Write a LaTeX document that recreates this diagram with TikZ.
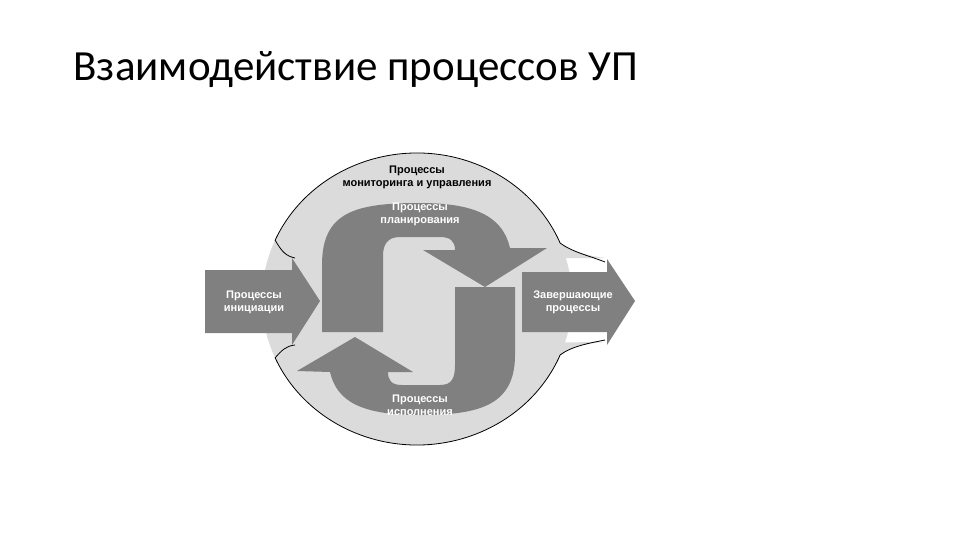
\documentclass[tikz,border=0pt]{standalone}
\usepackage{fontspec}
\setmainfont{Liberation Sans}
\newfontfamily\titlefont{Carlito}
\begin{document}
\begin{tikzpicture}[x=1pt,y=-1pt,
  shp/.style={fill=black!50,draw=none},
  wlab/.style={text=white,font=\bfseries\fontsize{11}{13}\selectfont,align=center},
  blab/.style={text=black,font=\bfseries\fontsize{11}{13}\selectfont,align=center}]
\useasboundingbox (0,0) rectangle (960,540);
\node[anchor=west,font=\titlefont\fontsize{43}{48}\selectfont] (title) at (70,70) {Взаимодействие процессов УП};
% background blob
\fill[black!14] (275,240) .. controls (282,252) and (286,256) .. (295,258) -- (605,258) .. controls (590,256) and (572,252) .. (560,243) -- (560,355) .. controls (572,346) and (590,343) .. (605,342) -- (295,345) .. controls (286,346) and (282,350) .. (275,358) -- cycle;
\fill[black!14] (417,299) ellipse [x radius=155,y radius=146];
\draw[thick] (417,299) ++(203.8:155 and 146) arc[start angle=203.8,end angle=337.4,x radius=155,y radius=146];
\draw[thick] (417,299) ++(22.6:155 and 146) arc[start angle=22.6,end angle=156.2,x radius=155,y radius=146];
\draw[thick] (275,240) .. controls (282,252) and (286,256) .. (295,258);
\draw[thick] (275,358) .. controls (282,350) and (286,346) .. (295,345);
\draw[thick] (560,243) .. controls (572,252) and (590,256) .. (605,262);
\draw[thick] (560,355) .. controls (572,346) and (590,343) .. (605,340);
% arrows
\fill[shp] (205,270) -- (292,270) -- (292,258) -- (320,301) -- (292,345) -- (292,333) -- (205,333) -- cycle;
\fill[shp] (522,272) -- (607,272) -- (607,259) -- (635,301) -- (607,345) -- (607,332) -- (522,332) -- cycle;
\fill[shp] (322,332) -- (322,265) .. controls (322,212) and (355,203) .. (420,203) .. controls (478,203) and (503,218) .. (510,248) -- (547,248) -- (485,287) -- (423,250) -- (455,250) .. controls (455,241) and (450,237) .. (440,237) -- (400,237) .. controls (387,237) and (383,245) .. (383,256) -- (383,332) -- cycle;
\fill[shp] (515,287) -- (515,355) .. controls (515,405) and (480,415) .. (420,415) .. controls (362,415) and (337,402) .. (330,372) -- (297,371) -- (355,337) -- (413,372) -- (388,372) .. controls (388,381) and (392,385) .. (402,385) -- (440,385) .. controls (452,385) and (455,378) .. (455,365) -- (455,287) -- cycle;
% labels
\node[blab] (mon) at (417,177) {Процессы\\мониторинга и управления};
\node[wlab] (plan) at (420,214) {Процессы\\планирования};
\node[wlab] (init) at (254,302) {Процессы\\инициации};
\node[wlab] (close) at (573,302) {Завершающие\\процессы};
\node[wlab] (exec) at (420,405) {Процессы\\исполнения};
\end{tikzpicture}
\end{document}
